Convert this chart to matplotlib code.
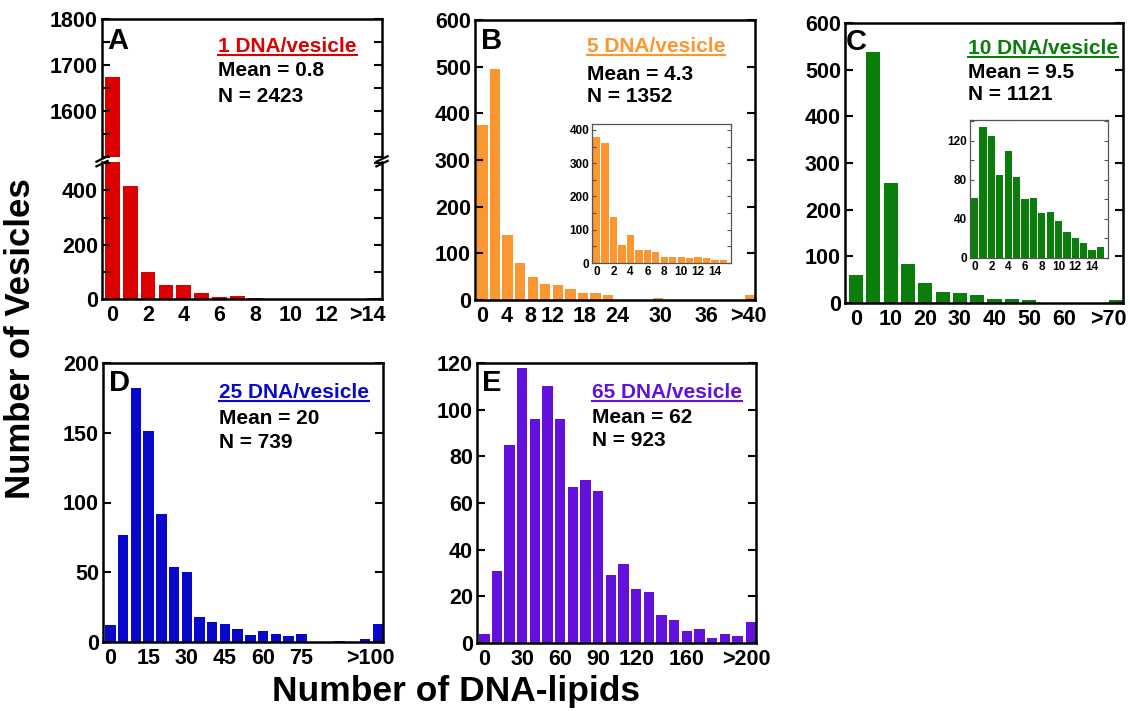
import numpy as np
import matplotlib
matplotlib.use('Agg')
import matplotlib.pyplot as plt
from matplotlib.ticker import MultipleLocator
from matplotlib.lines import Line2D

plt.rcParams['font.family'] = ['Liberation Sans', 'DejaVu Sans']
plt.rcParams['font.weight'] = 'bold'

# ---- data (counts) ----
# A: 1 DNA/vesicle, bin width 1
a_bins = np.arange(0, 14)
a_counts = [1675, 415, 100, 52, 52, 22, 8, 12, 2, 0, 0, 0, 0, 0]
a_over = 5
a_ticks = [0, 2, 4, 6, 8, 10, 12, 14.3]
a_ticklabels = ['0', '2', '4', '6', '8', '10', '12', '>14']

# B: 5 DNA/vesicle, bin width 2
b_bins = np.arange(0, 41, 2)
b_counts = [375, 496, 139, 79, 50, 34, 32, 23, 14, 14, 10, 1, 1, 0, 5, 0, 0, 0, 0, 0, 0]
b_over = 11
b_ticks = [0, 3.8, 7.6, 11.2, 16.3, 21.4, 28.3, 35.7, 42.3]
b_ticklabels = ['0', '4', '8', '12', '18', '24', '30', '36', '>40']
b_inset_bins = np.arange(0, 16)
b_inset_counts = [378, 360, 137, 55, 85, 38, 40, 33, 18, 18, 18, 14, 18, 15, 10, 10]

# C: 10 DNA/vesicle, bin width 5
c_bins = np.arange(0, 71, 5)
c_counts = [60, 537, 257, 84, 42, 24, 22, 17, 9, 9, 6, 0, 0, 0, 0]
c_over = 7
c_ticks = [0, 10, 20, 30, 40, 50, 60, 73]
c_ticklabels = ['0', '10', '20', '30', '40', '50', '60', '>70']
c_inset_bins = np.arange(0, 16)
c_inset_counts = [61, 134, 125, 85, 109, 83, 60, 61, 46, 47, 38, 27, 20, 15, 8, 11]

# D: 25 DNA/vesicle, bin width 5
d_bins = np.arange(0, 101, 5)
d_counts = [12, 77, 182, 151, 92, 54, 50, 18, 14, 13, 9, 5, 8, 6, 4, 6, 0, 0, 1, 0, 2]
d_over = 13
d_ticks = [0, 15, 30, 45, 60, 75, 102]
d_ticklabels = ['0', '15', '30', '45', '60', '75', '>100']

# E: 65 DNA/vesicle, bin width 10
e_bins = np.arange(0, 201, 10)
e_counts = [4, 31, 85, 118, 96, 110, 96, 67, 70, 65, 29, 34, 23, 22, 12, 10, 5, 6, 2, 4, 3]
e_over = 9
e_ticks = [0, 30, 60, 90, 120, 160, 207]
e_ticklabels = ['0', '30', '60', '90', '120', '160', '>200']

red = '#dd0000'
orange = '#fb9630'
green = '#0a7d0a'
blue = '#0808cc'
purple = '#6410dc'

W, H = 1130, 711
fig = plt.figure(figsize=(W / 100, H / 100), dpi=100)


def box(l, t, r, b):
    return [l / W, 1 - b / H, (r - l) / W, (b - t) / H]


def style(ax, fs=15.5, lw=1.8):
    for s in ax.spines.values():
        s.set_linewidth(lw)
    ax.tick_params(axis='y', which='both', direction='in', length=6, width=1.5,
                   right=True, labelsize=fs, pad=3)
    ax.tick_params(axis='x', which='both', length=0, labelsize=fs, pad=4)


def panel(ax, bins, counts, over, bw, color, xlim, ticks, labels):
    ax.bar(bins, counts, width=0.82 * bw, color=color)
    ax.bar(xlim[1] - 0.41 * bw, over, width=0.82 * bw, color=color)
    ax.set_xlim(*xlim)
    ax.set_xticks(ticks)
    ax.set_xticklabels(labels)
    style(ax)


def inset(rect, bins, counts, color, ylim, major, minor):
    ax = fig.add_axes(rect)
    ax.bar(bins, counts, width=0.86, color=color)
    ax.set_xlim(-0.55, 15.9)
    ax.set_ylim(*ylim)
    ax.set_xticks(np.arange(0, 15, 2))
    ax.yaxis.set_major_locator(MultipleLocator(major))
    ax.yaxis.set_minor_locator(MultipleLocator(minor))
    for s in ax.spines.values():
        s.set_linewidth(0.9)
        s.set_color('#555555')
    ax.tick_params(axis='y', which='both', direction='in', length=3, width=0.8,
                   right=True, labelsize=8.5, pad=2, color='#555555')
    ax.tick_params(axis='x', length=0, labelsize=8.5, pad=2)
    return ax


# ---- A: broken y axis ----
a_xlim = (-0.58, 15.1)
axA_top = fig.add_axes(box(102, 19, 382, 157))
axA_bot = fig.add_axes(box(102, 162, 382, 299))
for ax in (axA_top, axA_bot):
    ax.bar(a_bins, a_counts, width=0.82, color=red)
    ax.bar(a_xlim[1] - 0.41, a_over, width=0.82, color=red)
    ax.set_xlim(*a_xlim)
    style(ax)
axA_top.set_ylim(1500, 1800)
axA_top.set_yticks([1600, 1700, 1800])
axA_top.yaxis.set_minor_locator(MultipleLocator(50))
axA_top.spines['bottom'].set_visible(False)
axA_top.set_xticks([])
axA_bot.set_ylim(0, 505)
axA_bot.set_yticks([0, 200, 400])
axA_bot.yaxis.set_minor_locator(MultipleLocator(100))
axA_bot.spines['top'].set_visible(False)
axA_bot.set_xticks(a_ticks)
axA_bot.set_xticklabels(a_ticklabels)
# break marks
for xa in (0, 1):
    for dy in (-0.012, 0.022):
        axA_bot.plot([xa - 0.02, xa + 0.02], [1.0 + dy - 0.02, 1.0 + dy + 0.02],
                     transform=axA_bot.transAxes, color='k', lw=1.6, clip_on=False)

# ---- B ----
axB = fig.add_axes(box(475, 20, 755, 300))
panel(axB, b_bins, b_counts, b_over, 2, orange, (-1.2, 43.4), b_ticks, b_ticklabels)
axB.set_ylim(0, 600)
axB.yaxis.set_major_locator(MultipleLocator(100))
inset(box(592, 124, 731, 263), b_inset_bins, b_inset_counts, orange, (0, 418), 100, 50)

# ---- C ----
axC = fig.add_axes(box(845, 23, 1123, 303))
panel(axC, c_bins, c_counts, c_over, 5, green, (-3.2, 77.1), c_ticks, c_ticklabels)
axC.set_ylim(0, 600)
axC.yaxis.set_major_locator(MultipleLocator(100))
inset(box(970, 120, 1108, 258), c_inset_bins, c_inset_counts, green, (0, 141), 40, 20)

# ---- D ----
axD = fig.add_axes(box(103, 363, 383, 642))
panel(axD, d_bins, d_counts, d_over, 5, blue, (-2.9, 107.1), d_ticks, d_ticklabels)
axD.set_ylim(0, 200)
axD.yaxis.set_major_locator(MultipleLocator(50))

# ---- E ----
axE = fig.add_axes(box(477, 363, 756, 643))
panel(axE, e_bins, e_counts, e_over, 10, purple, (-5.8, 214.7), e_ticks, e_ticklabels)
axE.set_ylim(0, 120)
axE.yaxis.set_major_locator(MultipleLocator(20))

# ---- text ----
def ftext(x, y, s, **kw):
    return fig.text(x / W, 1 - y / H, s, va='center', **kw)


letters = [('A', 107, 41), ('B', 481, 41), ('C', 846, 42), ('D', 109, 383), ('E', 482, 383)]
for s, x, y in letters:
    ftext(x, y, s, fontsize=21, ha='left')

notes = [
    ('1 DNA/vesicle', 'Mean = 0.8', 'N = 2423', red, 218, 46, 71, 96),
    ('5 DNA/vesicle', 'Mean = 4.3', 'N = 1352', orange, 587, 46, 74, 97),
    ('10 DNA/vesicle', 'Mean = 9.5', 'N = 1121', green, 968, 48, 72, 95),
    ('25 DNA/vesicle', 'Mean = 20', 'N = 739', blue, 219, 392, 418, 442),
    ('65 DNA/vesicle', 'Mean = 62', 'N = 923', purple, 592, 392, 417, 440),
]
titles = []
for title, mean, n, col, x, y1, y2, y3 in notes:
    titles.append((ftext(x, y1, title, fontsize=15, color=col, ha='left'), col))
    ftext(x, y2, mean, fontsize=15, ha='left')
    ftext(x, y3, n, fontsize=15, ha='left')

ftext(21, 339, 'Number of Vesicles', fontsize=25, rotation=90, ha='center')
ftext(456, 691, 'Number of DNA-lipids', fontsize=25.5, ha='center')

# underline the condition labels
fig.canvas.draw()
r = fig.canvas.get_renderer()
for t, col in titles:
    bb = t.get_window_extent(r)
    yy = (bb.y0 + 1) / H
    fig.add_artist(Line2D([bb.x0 / W, bb.x1 / W], [yy, yy], transform=fig.transFigure,
                          color=col, lw=1.5))

fig.savefig('out.png', dpi=100)
